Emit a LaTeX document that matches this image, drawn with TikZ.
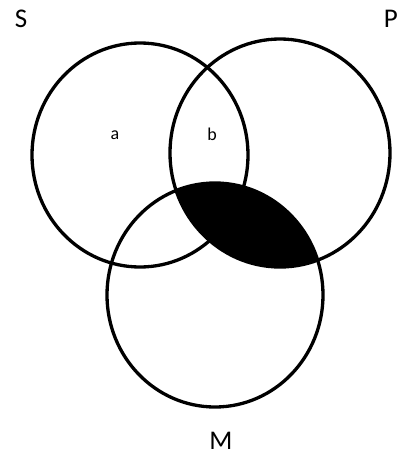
\documentclass[tikz,border=0pt]{standalone}
\usepackage{fontspec}
\setmainfont{Carlito}
\usepackage{tikz}
\usetikzlibrary{positioning}

\begin{document}
\begin{tikzpicture}[x=1pt, y=-1pt,
  ring/.style={draw=black, line width=3.3pt},
  setname/.style={font=\fontsize{27}{27}\selectfont, inner sep=0pt},
  region/.style={font=\fontsize{18}{18}\selectfont, inner sep=0pt}]
  \useasboundingbox (0,0) rectangle (399,456);
  \coordinate (cS) at (140,155);
  \coordinate (cP) at (280,153);
  \coordinate (cM) at (215,295);
  % shaded part: P and M
  \begin{scope}
    \clip (cP) ellipse [x radius=110, y radius=114];
    \fill[black] (cM) ellipse [x radius=108, y radius=112];
  \end{scope}
  \draw[ring] (cS) ellipse [x radius=108, y radius=112];
  \draw[ring] (cP) ellipse [x radius=110, y radius=114];
  \draw[ring] (cM) ellipse [x radius=108, y radius=112];
  \node[setname] (labS) at (21,19) {S};
  \node[setname, anchor=east] (labP) at (398,19) {P};
  \node[setname] (labM) at (221,441) {M};
  \node[region] (ra) at (115,135) {a};
  \node[region] (rb) at (212,134) {b};
\end{tikzpicture}
\end{document}
